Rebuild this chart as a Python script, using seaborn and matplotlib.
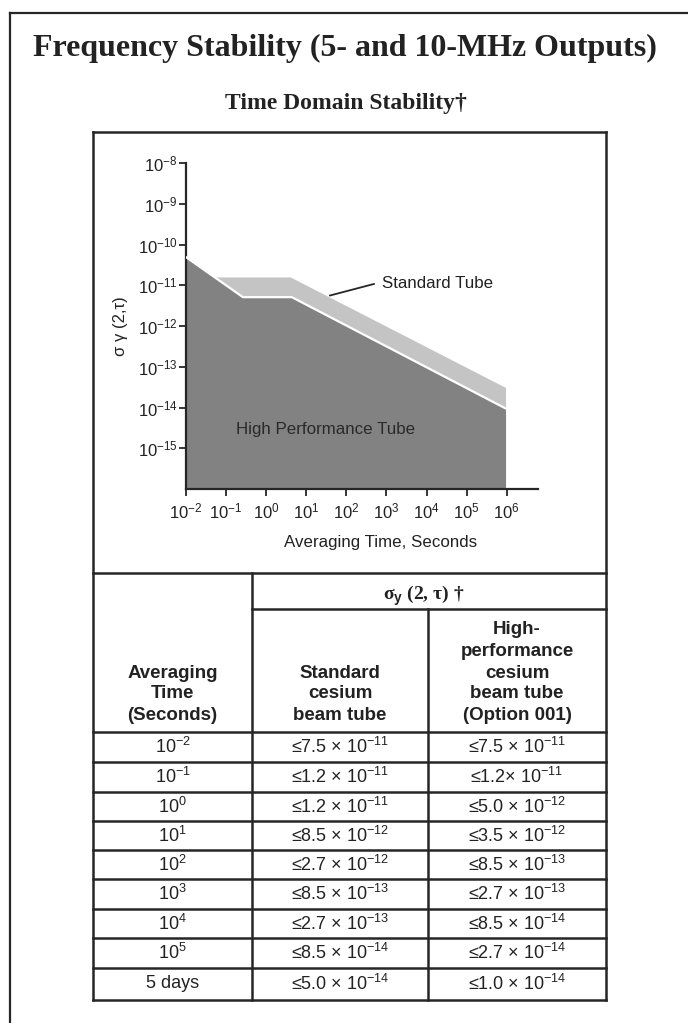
import matplotlib
matplotlib.use("Agg")
import matplotlib.pyplot as plt
import seaborn as sns
import pandas as pd
from matplotlib.lines import Line2D

# ---------------- data ----------------
hp_tau = [1e-2, 10**-0.58, 10**0.64, 10**5.97]
hp_sigma = [4.9e-11, 5.1e-12, 5.1e-12, 9.5e-15]
std_tau = [1e-2, 10**-1.29, 10**0.60, 10**5.97]
std_sigma = [4.9e-11, 1.6e-11, 1.6e-11, 3.1e-14]

y_ticks = [1e-8, 1e-9, 1e-10, 1e-11, 1e-12, 1e-13, 1e-14, 1e-15]
y_labels = ["-8", "-9", "-10", "-11", "-12", "-13", "-14", "-15"]
x_ticks = [1e-2, 1e-1, 1e0, 1e1, 1e2, 1e3, 1e4, 1e5, 1e6]
x_labels = ["-2", "-1", "0", "1", "2", "3", "4", "5", "6"]

table_tau = ["10$^{-2}$", "10$^{-1}$", "10$^{0}$", "10$^{1}$", "10$^{2}$",
             "10$^{3}$", "10$^{4}$", "10$^{5}$", "5 days"]
table_std = ["≤7.5 × 10$^{-11}$", "≤1.2 × 10$^{-11}$", "≤1.2 × 10$^{-11}$",
             "≤8.5 × 10$^{-12}$", "≤2.7 × 10$^{-12}$", "≤8.5 × 10$^{-13}$",
             "≤2.7 × 10$^{-13}$", "≤8.5 × 10$^{-14}$", "≤5.0 × 10$^{-14}$"]
table_hp = ["≤7.5 × 10$^{-11}$", "≤1.2× 10$^{-11}$", "≤5.0 × 10$^{-12}$",
            "≤3.5 × 10$^{-12}$", "≤8.5 × 10$^{-13}$", "≤2.7 × 10$^{-13}$",
            "≤8.5 × 10$^{-14}$", "≤2.7 × 10$^{-14}$", "≤1.0 × 10$^{-14}$"]

# ---------------- style ----------------
sns.set_theme(style="white")
plt.rcParams["font.family"] = ["Liberation Sans", "DejaVu Sans"]
plt.rcParams["mathtext.fontset"] = "custom"
plt.rcParams["mathtext.rm"] = "Liberation Sans"
plt.rcParams["mathtext.it"] = "Liberation Sans:italic"
plt.rcParams["mathtext.bf"] = "Liberation Sans:bold"

W, H = 688, 1023
fig = plt.figure(figsize=(W / 100, H / 100), dpi=100)
fig.patch.set_facecolor("white")
INK = "#262626"
TXT = "#222222"


def X(px):
    return px / W


def Y(py):
    return 1 - py / H


def hline(y, x0, x1, lw=1.8):
    fig.add_artist(Line2D([X(x0), X(x1)], [Y(y), Y(y)], lw=lw, color=INK,
                          solid_capstyle="projecting"))


def vline(x, y0, y1, lw=1.8):
    fig.add_artist(Line2D([X(x), X(x)], [Y(y0), Y(y1)], lw=lw, color=INK,
                          solid_capstyle="projecting"))


# ---------------- page frame & titles ----------------
hline(13, 10, 688, lw=1.6)
vline(10, 13, 1023, lw=1.6)

fig.text(X(345), Y(48), "Frequency Stability (5- and 10-MHz Outputs)",
         family=["Liberation Serif", "DejaVu Serif"], fontweight="bold",
         fontsize=23, ha="center", va="center", color=TXT)
fig.text(X(346), Y(103), "Time Domain Stability†",
         family=["Liberation Serif", "DejaVu Serif"], fontweight="bold",
         fontsize=17, ha="center", va="center", color=TXT)

# ---------------- chart ----------------
ax_l, ax_r, ax_t, ax_b = 186, 538, 163, 489
ax = fig.add_axes([X(ax_l), Y(ax_b), (ax_r - ax_l) / W, (ax_b - ax_t) / H])
ax.set_xscale("log")
ax.set_yscale("log")
ax.set_xlim(1e-2, 10**6.78)
ax.set_ylim(1e-16, 1e-8)

ax.fill_between(std_tau, 1e-16, std_sigma, color="#c4c4c4", lw=0, zorder=1)
ax.fill_between(hp_tau, 1e-16, hp_sigma, color="#828282", lw=0, zorder=2)
df_hp = pd.DataFrame({"tau": hp_tau, "sigma": hp_sigma})
sns.lineplot(data=df_hp, x="tau", y="sigma", ax=ax, color="white", lw=1.6,
             zorder=3, estimator=None, sort=False)

ax.set_xlabel("")
ax.set_ylabel("")
for s in ["top", "right"]:
    ax.spines[s].set_visible(False)
for s in ["left", "bottom"]:
    ax.spines[s].set_color(INK)
    ax.spines[s].set_linewidth(1.6)
ax.set_facecolor("white")

ax.set_yticks(y_ticks)
ax.set_yticklabels([f"10$^{{{e}}}$" for e in y_labels])
ax.set_xticks(x_ticks)
ax.set_xticklabels([f"10$^{{{e}}}$" for e in x_labels])
ax.minorticks_off()
ax.tick_params(axis="both", which="major", direction="out", length=5, width=1.3,
               color=INK, labelsize=12, labelcolor=TXT, left=True, bottom=True)
ax.tick_params(axis="x", pad=4)
ax.tick_params(axis="y", pad=1)

ax.annotate("", xy=(10**1.52, 10**-11.27), xytext=(10**2.76, 10**-10.95),
            arrowprops=dict(arrowstyle="-", color=INK, lw=1.3), zorder=5)
ax.text(10**2.9, 10**-10.95, "Standard Tube", fontsize=12.2, ha="left",
        va="center", color=TXT, zorder=5)
ax.text(10**1.47, 10**-14.55, "High Performance Tube", fontsize=12.2,
        ha="center", va="center", color="#2a2a2a", zorder=5)

fig.text(X(121), Y(326), "σ γ (2,τ)", rotation=90, fontsize=12,
         ha="center", va="center", color=TXT)
fig.text(X(381), Y(543), "Averaging Time, Seconds", fontsize=12.2,
         ha="center", va="center", color=TXT)

# ---------------- frame and table grid ----------------
L, C1, C2, R = 93, 252, 428, 606
top_box, tbl_top, sub_line, hdr_bot = 132, 573, 609, 732
rows = [732, 762, 792, 821, 850, 879, 909, 938, 968, 1000]

hline(top_box, L, R)
vline(L, top_box, rows[-1])
vline(R, top_box, rows[-1])
hline(tbl_top, L, R)
hline(sub_line, C1, R)
for r in rows:
    hline(r, L, R)
vline(C1, tbl_top, rows[-1])
vline(C2, sub_line, rows[-1])

# header texts
fig.text(X((C1 + R) / 2 - 5), Y(596), "σ$_{\\mathbf{y}}$ (2, τ) †",
         family=["Liberation Serif", "DejaVu Serif"], fontweight="bold",
         fontsize=14, ha="center", va="center", color=TXT)

hdr_kw = dict(fontsize=13.5, fontweight="bold", ha="center", va="center",
              color=TXT)
cx1, cx2, cx3 = (L + C1) / 2, (C1 + C2) / 2, (C2 + R) / 2
for txt, yy in zip(["Averaging", "Time", "(Seconds)"], [673, 694, 716]):
    fig.text(X(cx1), Y(yy), txt, **hdr_kw)
for txt, yy in zip(["Standard", "cesium", "beam tube"], [673, 694, 716]):
    fig.text(X(cx2), Y(yy), txt, **hdr_kw)
for txt, yy in zip(["High-", "performance", "cesium", "beam tube", "(Option 001)"],
                   [630, 651, 673, 694, 716]):
    fig.text(X(cx3), Y(yy), txt, **hdr_kw)

body_kw = dict(fontsize=13, ha="center", va="center", color=TXT)
for i in range(len(table_tau)):
    yc = (rows[i] + rows[i + 1]) / 2
    fig.text(X(cx1), Y(yc), table_tau[i], **body_kw)
    fig.text(X(cx2), Y(yc), table_std[i], **body_kw)
    fig.text(X(cx3), Y(yc), table_hp[i], **body_kw)

fig.savefig("out.png", dpi=100, facecolor="white")
